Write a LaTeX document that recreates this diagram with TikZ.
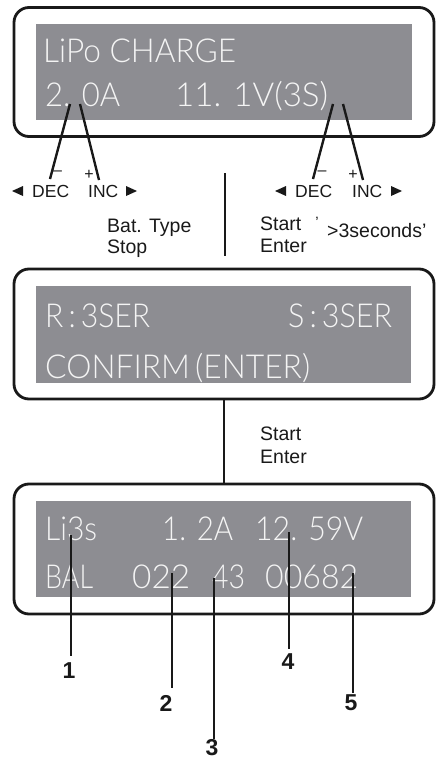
\documentclass[tikz,border=0pt]{standalone}
\usepackage{fontspec}
\usepackage{graphicx}
\setmainfont{Liberation Sans}
\IfFontExistsTF{Lato Light}{\newfontfamily\lcdfont{Lato Light}}{\newfontfamily\lcdfont{Lato}}
\newcommand\lcdtxt[2]{\resizebox{#1pt}{\height}{\lcdfont\fontsize{33}{33}\selectfont #2}}
\definecolor{lcdgray}{RGB}{141,141,146}
\definecolor{lcdwhite}{RGB}{244,244,244}
\definecolor{ink}{RGB}{25,25,25}
\tikzset{
  outerbox/.style={draw=ink, line width=2.8pt, rounded corners=15pt, fill=white, inner sep=0},
  screen/.style={fill=lcdgray, draw=none, inner sep=0},
  lcd/.style={anchor=base west, inner sep=0, text=lcdwhite},
  lbl/.style={anchor=base west, inner sep=0, text=ink, font=\fontsize{17.5}{17.5}\selectfont},
  lblb/.style={anchor=base west, inner sep=0, text=ink, font=\fontsize{19.5}{19.5}\selectfont},
  sign/.style={inner sep=0, text=ink, font=\fontsize{16}{16}\selectfont},
  ptr/.style={draw=ink, line width=2.4pt},
  conn/.style={draw=ink, line width=2.8pt},
  num/.style={inner sep=0, text=ink, font=\bfseries\fontsize{23}{23}\selectfont},
  tri/.style={fill=ink}
}
\begin{document}
\begin{tikzpicture}[x=1pt,y=-1pt]
\useasboundingbox (0,0) rectangle (439,760);

% ---------- box 1 ----------
\node[outerbox, minimum width=420pt, minimum height=129pt] (b1) at (224,72) {};
\node[screen, minimum width=376pt, minimum height=96pt] (s1) at (224,72) {};
\node[lcd] (t11) at (43,63) {\lcdtxt{193}{LiPo CHARGE}};
\node[lcd] (t12) at (45,106) {\lcdtxt{75}{2. 0A}};
\node[lcd] (t13) at (175,106) {\lcdtxt{153}{11. 1V(3S)}};

% DEC / INC left
\node[lbl] (decL) at (32,197) {DEC};
\node[lbl] (incL) at (88,197) {INC};
\node[sign] (mL) at (57.5,173) {\textendash};
\node[sign] (pL) at (89,175) {+};
\fill[tri] (12,191) -- (23,186) -- (23,196) -- cycle;
\fill[tri] (137,191) -- (126,186) -- (126,196) -- cycle;
\coordinate (a1) at (70,104);
\coordinate (a2) at (80,104);
\draw[ptr] (a1) -- (50,179);
\draw[ptr] (a2) -- (99,180);

% DEC / INC right
\node[lbl] (decR) at (295,197) {DEC};
\node[lbl] (incR) at (352,197) {INC};
\node[sign] (mR) at (322,173) {\textendash};
\node[sign] (pR) at (353,175) {+};
\fill[tri] (275,191) -- (286,186) -- (286,196) -- cycle;
\fill[tri] (402,191) -- (391,186) -- (391,196) -- cycle;
\coordinate (a3) at (333,104);
\coordinate (a4) at (343,104);
\draw[ptr] (a3) -- (313,179);
\draw[ptr] (a4) -- (363,180);

% middle separator
\coordinate (v1) at (225,173);
\coordinate (v2) at (225,256);
\draw[conn] (v1) -- (v2);

\node[lblb] (bt) at (107,232) {Bat. Type};
\node[lblb] (stp) at (107,253) {Stop};
\node[lblb] (st1) at (260,230) {Start};
\node[lblb] (en1) at (260,252) {Enter};
\node[inner sep=0, text=ink, font=\fontsize{15}{15}\selectfont] (q1) at (317,222) {\textquoteright};
\node[lblb] (sec) at (327,237) {\textgreater3seconds\textquoteright};

% ---------- box 2 ----------
\node[outerbox, minimum width=420pt, minimum height=130pt] (b2) at (224,334) {};
\node[screen, minimum width=375pt, minimum height=97pt] (s2) at (223.5,334.5) {};
\node[lcd] (t21) at (45,327) {\lcdtxt{105}{R\,:\,3SER}};
\node[lcd] (t22) at (288,327) {\lcdtxt{104}{S\,:\,3SER}};
\node[lcd] (t23) at (45,378) {\lcdtxt{265}{CONFIRM\,(ENTER)}};

% ---------- box 3 ----------
\node[outerbox, minimum width=420pt, minimum height=130pt] (b3) at (224,549) {};
\node[screen, minimum width=375pt, minimum height=96pt] (s3) at (223.5,549) {};
\draw[conn] (b2.south) -- (b3.north);
\node[lblb] (st2) at (260,440) {Start};
\node[lblb] (en2) at (260,463) {Enter};

\node[lcd] (t31) at (45,540) {\lcdtxt{52}{Li3s}};
\node[lcd] (t32) at (162,540) {\lcdtxt{71}{1. 2A}};
\node[lcd] (t33) at (255,540) {\lcdtxt{108}{12. 59V}};
\node[lcd] (t34) at (45,588) {\lcdtxt{48}{BAL}};
\node[lcd] (t35) at (132,588) {\lcdtxt{58}{022}};
\node[lcd] (t36) at (212,588) {\lcdtxt{33}{43}};
\node[lcd] (t37) at (265,588) {\lcdtxt{93}{00682}};

% numbered pointers
\node[num] (n1) at (69,671) {1};
\node[num] (n2) at (166,703) {2};
\node[num] (n3) at (212,748) {3};
\node[num] (n4) at (288,662) {4};
\node[num] (n5) at (351,703) {5};
\coordinate (c1) at (71,535);
\coordinate (c2) at (172,573);
\coordinate (c3) at (214,578);
\coordinate (c4) at (289,532);
\coordinate (c5) at (353,573);
\draw[ptr, shorten >=7pt] (c1) -- (c1 |- n1.north);
\draw[ptr, shorten >=7pt] (c2) -- (c2 |- n2.north);
\draw[ptr, shorten >=1pt] (c3) -- (c3 |- n3.north);
\draw[ptr, shorten >=5pt] (c4) -- (c4 |- n4.north);
\draw[ptr, shorten >=2pt] (c5) -- (c5 |- n5.north);
\end{tikzpicture}
\end{document}
